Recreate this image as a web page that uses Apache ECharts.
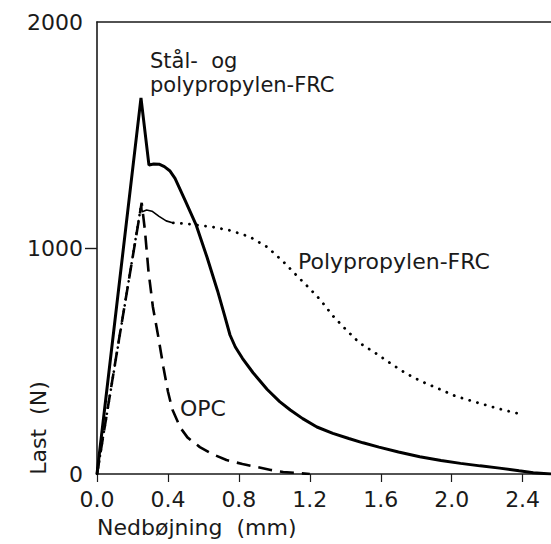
<!DOCTYPE html>
<html>
<head>
<meta charset="utf-8">
<script src="https://cdn.jsdelivr.net/npm/echarts@6/dist/echarts.min.js"></script>
<style>
html,body{margin:0;padding:0;background:#fff;}
#chart{width:551px;height:544px;}
</style>
</head>
<body>
<div id="chart"></div>
<script>
// Axis ticks
var xTicks = [0, 0.4, 0.8, 1.2, 1.6, 2.0, 2.4];
var yTicks = [0, 1000, 2000];

// Stål- og polypropylen-FRC (solid)
var steelPP = [
  [0,0],[0.248,1664],[0.293,1367],[0.32,1372],[0.35,1371],[0.38,1360],[0.41,1342],
  [0.44,1308],[0.50,1205],[0.56,1100],[0.62,960],[0.68,810],[0.72,700],[0.75,615],
  [0.78,562],[0.82,512],[0.88,448],[0.96,374],[1.03,320],[1.09,283],[1.16,245],
  [1.24,208],[1.33,180],[1.42,157],[1.50,138],[1.59,119],[1.70,97],[1.82,76],
  [1.94,60],[2.05,47],[2.16,36],[2.27,26],[2.38,14],[2.46,6],[2.56,0]
];

// OPC (dashed)
var opc = [
  [0,0],[0.125,600],[0.252,1200],[0.27,1080],[0.29,900],[0.315,740],[0.345,610],
  [0.375,470],[0.40,365],[0.425,285],[0.47,205],[0.51,162],[0.58,119],[0.65,88],
  [0.73,62],[0.82,44],[0.90,31],[0.98,18],[1.05,9],[1.13,4],[1.2,0]
];

// Polypropylen-FRC: rise (dotted), post-peak (thin solid), tail (dotted)
var ppRise = [[0,0],[0.13,620],[0.25,1195]];
var ppPeak = [[0.25,1195],[0.255,1160],[0.28,1168],[0.31,1163],[0.35,1140],[0.39,1120],[0.43,1111]];
var ppTail = [
  [0.43,1111],[0.50,1108],[0.56,1102],[0.65,1093],[0.75,1078],[0.86,1050],[0.96,1004],
  [1.05,940],[1.13,875],[1.20,820],[1.26,770],[1.33,700],[1.39,650],[1.48,580],
  [1.57,535],[1.66,487],[1.72,456],[1.78,429],[1.85,403],[1.93,376],[2.02,345],
  [2.13,319],[2.25,292],[2.34,274],[2.39,265]
];

var font = 'DejaVu Sans';
var ink = '#1a1a1a';

var chart = echarts.init(document.getElementById('chart'), null, {renderer: 'svg'});
chart.setOption({
  animation: false,
  backgroundColor: '#fff',
  grid: {left: 97, right: 0, top: 22, bottom: 70, containLabel: false, outerBoundsMode: 'none'},
  xAxis: [{
    type: 'value', min: 0, max: 2.56, interval: 0.4,
    splitLine: {show: false},
    axisLine: {show: true, onZero: false, lineStyle: {color: ink, width: 1.6}},
    axisTick: {show: true, length: 8, lineStyle: {color: ink, width: 1.2}, customValues: xTicks},
    axisLabel: {customValues: xTicks, margin: 14, fontFamily: font, fontSize: 22, color: ink,
      formatter: function (v) { return v.toFixed(1); }}
  }, {
    type: 'value', min: 0, max: 2.56, position: 'top',
    splitLine: {show: false},
    axisLine: {show: true, onZero: false, lineStyle: {color: ink, width: 1.6}},
    axisTick: {show: false}, axisLabel: {show: false}
  }],
  yAxis: {
    type: 'value', min: 0, max: 2000, interval: 1000,
    splitLine: {show: false},
    axisLine: {show: true, onZero: false, lineStyle: {color: ink, width: 1.6}},
    axisTick: {show: true, length: 12, lineStyle: {color: ink, width: 1.4}, customValues: [1000]},
    axisLabel: {customValues: yTicks, margin: 14, fontFamily: font, fontSize: 22, color: ink,
      formatter: function (v) { return String(v); }}
  },
  series: [
    {type: 'line', data: steelPP, showSymbol: false, symbol: 'none',
      lineStyle: {color: '#000', width: 3}},
    {type: 'line', data: opc, showSymbol: false, symbol: 'none',
      lineStyle: {color: '#000', width: 2.6, type: [14, 8]}},
    {type: 'line', data: ppRise, showSymbol: false, symbol: 'none',
      lineStyle: {color: '#000', width: 2.6, type: [0.1, 6], cap: 'round'}},
    {type: 'line', data: ppPeak, showSymbol: false, symbol: 'none',
      lineStyle: {color: '#000', width: 1.6}},
    {type: 'line', data: ppTail, showSymbol: false, symbol: 'none',
      lineStyle: {color: '#000', width: 2.8, type: [0.1, 8], cap: 'round'}}
  ],
  graphic: [
    {type: 'text', left: 150, top: 49, style: {text: 'Stål-  og\npolypropylen-FRC', font: '21px "DejaVu Sans"', lineHeight: 24, fill: ink}},
    {type: 'text', left: 298, top: 250, style: {text: 'Polypropylen-FRC', font: '22px "DejaVu Sans"', fill: ink}},
    {type: 'text', left: 180, top: 397, style: {text: 'OPC', font: '22px "DejaVu Sans"', fill: ink}},
    {type: 'text', left: 97, top: 516, style: {text: 'Nedbøjning  (mm)', font: '22px "DejaVu Sans"', fill: ink}},
    {type: 'text', x: 38, y: 428, rotation: Math.PI / 2,
      style: {text: 'Last  (N)', font: '22px "DejaVu Sans"', fill: ink, align: 'center', verticalAlign: 'middle'}}
  ]
});
</script>
</body>
</html>
